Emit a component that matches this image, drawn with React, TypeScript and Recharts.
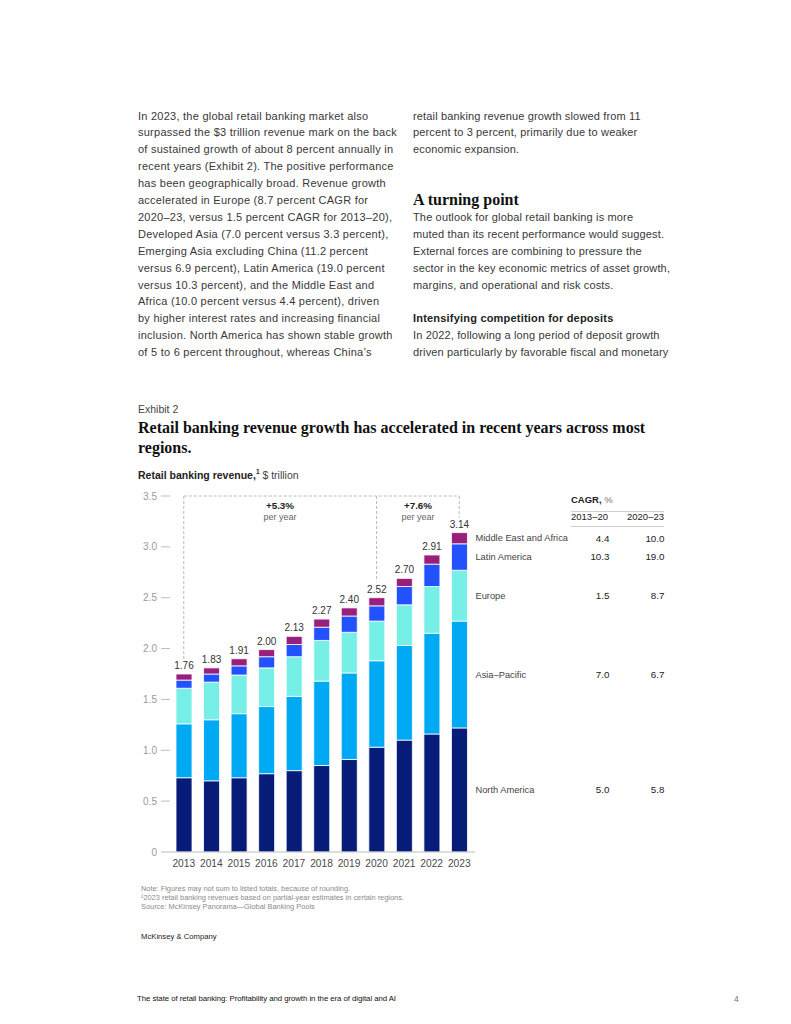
import React from 'react';
import { ComposedChart, Bar, XAxis, YAxis, LabelList, ReferenceLine } from 'recharts';

const years = ['2013', '2014', '2015', '2016', '2017', '2018', '2019', '2020', '2021', '2022', '2023'];
const northAmerica = [0.73, 0.70, 0.73, 0.77, 0.80, 0.85, 0.91, 1.03, 1.10, 1.16, 1.22];
const asiaPacific = [0.53, 0.60, 0.63, 0.66, 0.73, 0.83, 0.85, 0.85, 0.93, 0.99, 1.05];
const europe = [0.35, 0.37, 0.38, 0.38, 0.39, 0.40, 0.40, 0.39, 0.40, 0.46, 0.50];
const latinAmerica = [0.08, 0.08, 0.09, 0.11, 0.12, 0.13, 0.16, 0.15, 0.18, 0.22, 0.26];
const middleEastAfrica = [0.06, 0.06, 0.07, 0.07, 0.08, 0.08, 0.08, 0.08, 0.08, 0.09, 0.11];
const totals = ['1.76', '1.83', '1.91', '2.00', '2.13', '2.27', '2.40', '2.52', '2.70', '2.91', '3.14'];
const yTicks = [0, 0.5, 1.0, 1.5, 2.0, 2.5, 3.0, 3.5];
const yTickLabels = ['0', '0.5', '1.0', '1.5', '2.0', '2.5', '3.0', '3.5'];

const seriesNames = ['North America', 'Asia–Pacific', 'Europe', 'Latin America', 'Middle East and Africa'];
const cagr2013to20 = ['5.0', '7.0', '1.5', '10.3', '4.4'];
const cagr2020to23 = ['5.8', '6.7', '8.7', '19.0', '10.0'];
const colors = ['#061c78', '#00a9f4', '#76f0e6', '#2251ff', '#991f7c'];

const data = years.map((y, i) => ({
  year: y,
  na: northAmerica[i],
  ap: asiaPacific[i],
  eu: europe[i],
  la: latinAmerica[i],
  mea: middleEastAfrica[i],
  total: totals[i],
}));
const keys = ['na', 'ap', 'eu', 'la', 'mea'];

const leftLines = [
  'In 2023, the global retail banking market also',
  'surpassed the $3 trillion revenue mark on the back',
  'of sustained growth of about 8 percent annually in',
  'recent years (Exhibit 2). The positive performance',
  'has been geographically broad. Revenue growth',
  'accelerated in Europe (8.7 percent CAGR for',
  '2020–23, versus 1.5 percent CAGR for 2013–20),',
  'Developed Asia (7.0 percent versus 3.3 percent),',
  'Emerging Asia excluding China (11.2 percent',
  'versus 6.9 percent), Latin America (19.0 percent',
  'versus 10.3 percent), and the Middle East and',
  'Africa (10.0 percent versus 4.4 percent), driven',
  'by higher interest rates and increasing financial',
  'inclusion. North America has shown stable growth',
  'of 5 to 6 percent throughout, whereas China’s',
];

const LH = 16.9;
const GRID_TOP = 107.5;
const SANS = '"Liberation Sans", Arial, sans-serif';
const SERIF = '"Liberation Serif", "Times New Roman", serif';

const bodyStyle: React.CSSProperties = {
  position: 'absolute',
  fontFamily: SANS,
  fontSize: 11,
  letterSpacing: 0.25,
  lineHeight: `${LH}px`,
  color: '#383838',
  whiteSpace: 'nowrap',
};

const makeLegend = (si: number) => (props: any) => {
  const { index } = props;
  if (index !== years.length - 1) return null;
  const vb = props.viewBox || props;
  const x = vb.x ?? props.x;
  const y = vb.y ?? props.y;
  const width = vb.width ?? props.width;
  const height = vb.height ?? props.height;
  const cy = y + height / 2;
  const r = x + width;
  return (
    <g>
      <text x={r + 8} y={cy} dy="0.35em" fontSize={9.3} fill="#444" fontFamily={SANS}>
        {seriesNames[si]}
      </text>
      <text x={r + 142} y={cy} dy="0.35em" fontSize={9.8} fill="#222" textAnchor="end" fontFamily={SANS}>
        {cagr2013to20[si]}
      </text>
      <text x={r + 197} y={cy} dy="0.35em" fontSize={9.8} fill="#222" textAnchor="end" fontFamily={SANS}>
        {cagr2020to23[si]}
      </text>
    </g>
  );
};

const dash = { stroke: '#a8a8a8', strokeWidth: 0.8, strokeDasharray: '3 2' };

export default function App() {
  return (
    <div
      style={{
        position: 'absolute',
        left: 0,
        top: 0,
        width: 791,
        height: 1024,
        background: '#fff',
        fontFamily: SANS,
        overflow: 'hidden',
      }}
    >
      {/* Left column */}
      <div style={{ ...bodyStyle, left: 138, top: GRID_TOP }}>
        {leftLines.map((l, i) => (
          <div key={i}>{l}</div>
        ))}
      </div>
      {/* Right column */}
      <div style={{ ...bodyStyle, left: 413, top: GRID_TOP, letterSpacing: 0.15 }}>
        <div>retail banking revenue growth slowed from 11</div>
        <div>percent to 3 percent, primarily due to weaker</div>
        <div>economic expansion.</div>
        <div>&nbsp;</div>
        <div>&nbsp;</div>
        <div
          style={{
            fontFamily: SERIF,
            fontWeight: 700,
            fontSize: 16,
            letterSpacing: 0,
            color: '#111',
          }}
        >
          A turning point
        </div>
        <div>The outlook for global retail banking is more</div>
        <div>muted than its recent performance would suggest.</div>
        <div>External forces are combining to pressure the</div>
        <div>sector in the key economic metrics of asset growth,</div>
        <div>margins, and operational and risk costs.</div>
        <div>&nbsp;</div>
        <div style={{ fontWeight: 700, color: '#222', letterSpacing: 0.2 }}>Intensifying competition for deposits</div>
        <div>In 2022, following a long period of deposit growth</div>
        <div>driven particularly by favorable fiscal and monetary</div>
      </div>

      {/* Exhibit header */}
      <div style={{ position: 'absolute', left: 138, top: 403, fontSize: 10.5, color: '#444', whiteSpace: 'nowrap' }}>
        Exhibit 2
      </div>
      <div
        style={{
          position: 'absolute',
          left: 138,
          top: 418,
          fontFamily: SERIF,
          fontWeight: 700,
          fontSize: 16,
          lineHeight: '20px',
          color: '#111',
          whiteSpace: 'nowrap',
        }}
      >
        <div>Retail banking revenue growth has accelerated in recent years across most</div>
        <div>regions.</div>
      </div>
      <div style={{ position: 'absolute', left: 138, top: 468, fontSize: 10.5, color: '#222', whiteSpace: 'nowrap' }}>
        <b>Retail banking revenue,</b>
        <sup style={{ fontSize: 6.5, fontWeight: 700 }}>1</sup> <span style={{ color: '#444' }}>$ trillion</span>
      </div>

      {/* Period annotations */}
      <div style={{ position: 'absolute', left: 230, width: 100, top: 500, textAlign: 'center', fontSize: 9.8, fontWeight: 700, color: '#222' }}>
        +5.3%
      </div>
      <div style={{ position: 'absolute', left: 230, width: 100, top: 512, textAlign: 'center', fontSize: 9, color: '#666' }}>
        per year
      </div>
      <div style={{ position: 'absolute', left: 368, width: 100, top: 500, textAlign: 'center', fontSize: 9.8, fontWeight: 700, color: '#222' }}>
        +7.6%
      </div>
      <div style={{ position: 'absolute', left: 368, width: 100, top: 512, textAlign: 'center', fontSize: 9, color: '#666' }}>
        per year
      </div>

      {/* CAGR header */}
      <div style={{ position: 'absolute', left: 571, top: 494, fontSize: 9.5, color: '#222', whiteSpace: 'nowrap' }}>
        <b>CAGR,</b> <span style={{ color: '#777' }}>%</span>
      </div>
      <div style={{ position: 'absolute', left: 571, top: 510.5, width: 93, height: 0, borderTop: '0.8px solid #cfcfcf' }} />
      <div style={{ position: 'absolute', left: 571, top: 511, fontSize: 9.5, color: '#222', whiteSpace: 'nowrap' }}>
        2013–20
      </div>
      <div style={{ position: 'absolute', left: 604, width: 60, top: 511, textAlign: 'right', fontSize: 9.5, color: '#222', whiteSpace: 'nowrap' }}>
        2020–23
      </div>
      <div style={{ position: 'absolute', left: 571, top: 525.5, width: 93, height: 0, borderTop: '0.8px solid #cfcfcf' }} />

      {/* Chart */}
      <div style={{ position: 'absolute', left: 130, top: 485 }}>
        <ComposedChart
          width={550}
          height={400}
          data={data}
          margin={{ top: 11, right: 205, bottom: 0, left: 0 }}
          barCategoryGap={0}
        >
          <XAxis
            dataKey="year"
            height={33}
            padding={{ left: 0, right: 2 }}
            axisLine={{ stroke: '#bdbdbd', strokeWidth: 1 }}
            tickLine={false}
            tick={{ fill: '#4a4a4a', fontSize: 10.2, fontFamily: SANS }}
            interval={0}
          />
          <YAxis
            width={40}
            domain={[0, 3.5]}
            ticks={yTicks}
            tickFormatter={(v: number) => yTickLabels[yTicks.indexOf(v)] ?? String(v)}
            axisLine={false}
            tickLine={{ stroke: '#bdbdbd', strokeWidth: 1 }}
            tickSize={9}
            tickMargin={4}
            tick={{ fill: '#9a9a9a', fontSize: 10, fontFamily: SANS }}
          />
          {keys.map((k, si) => (
            <Bar
              key={k}
              dataKey={k}
              stackId="a"
              fill={colors[si]}
              stroke="#ffffff"
              strokeWidth={0.8}
              barSize={16}
              isAnimationActive={false}
            >
              <LabelList dataKey={k} content={makeLegend(si)} />
              {k === 'mea' ? (
                <LabelList
                  dataKey="total"
                  position="top"
                  offset={5}
                  fill="#333"
                  fontSize={10}
                  fontFamily={SANS}
                />
              ) : null}
            </Bar>
          ))}
          <ReferenceLine segment={[{ x: '2013', y: 3.5 }, { x: '2023', y: 3.5 }]} {...dash} />
          <ReferenceLine segment={[{ x: '2013', y: 3.5 }, { x: '2013', y: 1.89 }]} {...dash} />
          <ReferenceLine segment={[{ x: '2020', y: 3.5 }, { x: '2020', y: 2.66 }]} {...dash} />
          <ReferenceLine segment={[{ x: '2023', y: 3.5 }, { x: '2023', y: 3.29 }]} {...dash} />
        </ComposedChart>
      </div>

      {/* Notes */}
      <div style={{ position: 'absolute', left: 141, top: 885, fontSize: 7.4, lineHeight: '8.8px', color: '#8a8a8a', whiteSpace: 'nowrap' }}>
        <div>Note: Figures may not sum to listed totals, because of rounding.</div>
        <div>¹2023 retail banking revenues based on partial-year estimates in certain regions.</div>
        <div>Source: McKinsey Panorama—Global Banking Pools</div>
      </div>
      <div style={{ position: 'absolute', left: 141, top: 932, fontSize: 7.7, color: '#222', whiteSpace: 'nowrap' }}>
        McKinsey &amp; Company
      </div>

      {/* Footer */}
      <div style={{ position: 'absolute', left: 137, top: 994, fontSize: 7.8, letterSpacing: -0.05, color: '#111', whiteSpace: 'nowrap' }}>
        The state of retail banking: Profitability and growth in the era of digital and AI
      </div>
      <div style={{ position: 'absolute', left: 734, top: 994, fontSize: 8.5, color: '#777' }}>4</div>
    </div>
  );
}
